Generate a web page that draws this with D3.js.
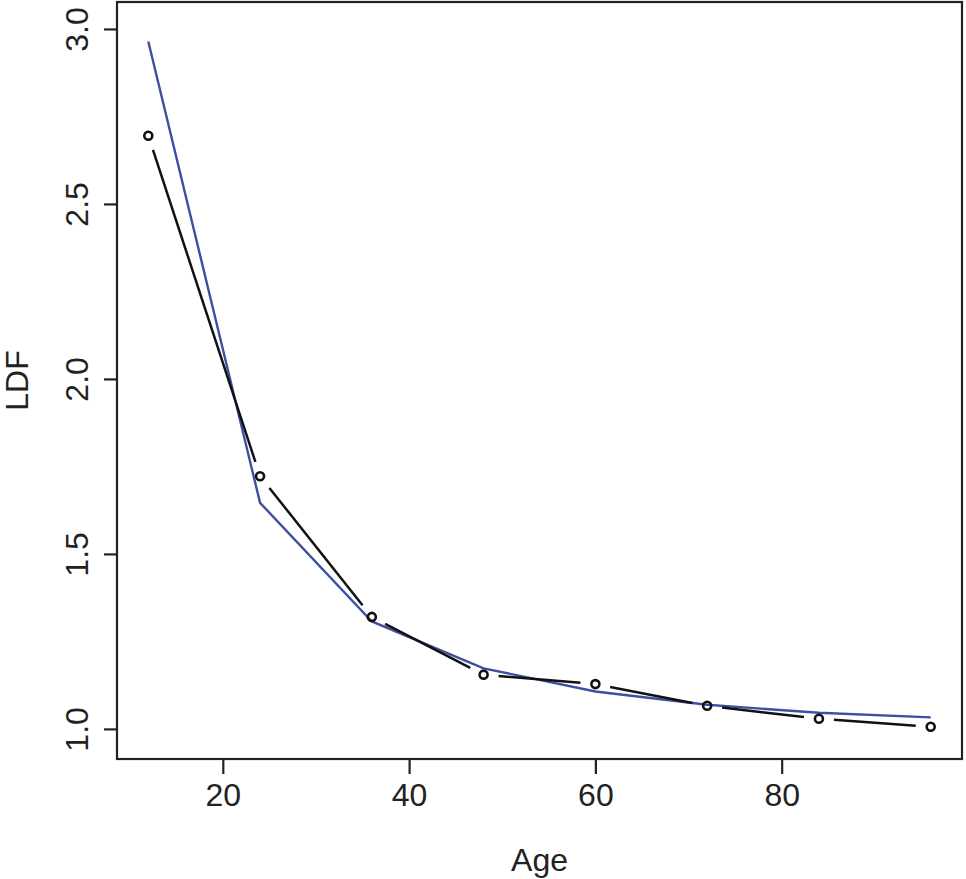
<!DOCTYPE html>
<html>
<head>
<meta charset="utf-8">
<script src="https://cdn.jsdelivr.net/npm/d3@7"></script>
<style>
  body { margin: 0; background: #fff; }
  text { font-family: "Liberation Sans", Arial, Helvetica, sans-serif; fill: #222; }
</style>
</head>
<body>
<div id="chart"></div>
<script>
// ages (development months)
let ages = [12, 24, 36, 48, 60, 72, 84, 96];
// observed LDF (black points, type "b")
let ldf_obs = [2.695, 1.722, 1.320, 1.155, 1.128, 1.066, 1.029, 1.006];
// fitted LDF (blue line)
let ldf_fit = [2.964, 1.646, 1.307, 1.173, 1.107, 1.069, 1.046, 1.033];

let x_ticks = [20, 40, 60, 80];
let y_ticks = [1.0, 1.5, 2.0, 2.5, 3.0];

let width = 966, height = 879,
    box = {left: 117, right: 962, top: 2, bottom: 759};

let svg = d3.select("#chart").append("svg")
  .attr("width", width)
  .attr("height", height);

// R style: data range extended by 4%
let x = d3.scaleLinear().domain([8.64, 99.36]).range([box.left, box.right]);
let y = d3.scaleLinear().domain([0.914, 3.077]).range([box.bottom, box.top]);

// fitted curve
let line = d3.line().x((d, i) => x(ages[i])).y(d => y(d));

svg.append("path")
  .datum(ldf_fit)
  .attr("d", line)
  .attr("fill", "none")
  .attr("stroke", "#3d4fa1")
  .attr("stroke-width", 2.4);

// observed: segments with gaps round the points
let gap = 15;
let segs = d3.range(ages.length - 1).map(function(i) {
  let x0 = x(ages[i]), y0 = y(ldf_obs[i]),
      x1 = x(ages[i + 1]), y1 = y(ldf_obs[i + 1]);
  let len = Math.hypot(x1 - x0, y1 - y0),
      ux = (x1 - x0) / len, uy = (y1 - y0) / len;
  return [x0 + ux * gap, y0 + uy * gap, x1 - ux * gap, y1 - uy * gap];
});

svg.selectAll(".seg").data(segs).enter().append("line")
  .attr("class", "seg")
  .attr("x1", d => d[0]).attr("y1", d => d[1])
  .attr("x2", d => d[2]).attr("y2", d => d[3])
  .attr("stroke", "#111")
  .attr("stroke-width", 2.5);

svg.selectAll(".pt").data(ldf_obs).enter().append("circle")
  .attr("class", "pt")
  .attr("cx", (d, i) => x(ages[i]))
  .attr("cy", d => y(d))
  .attr("r", 4)
  .attr("fill", "none")
  .attr("stroke", "#111")
  .attr("stroke-width", 2.6);

// box
svg.append("rect")
  .attr("x", box.left).attr("y", box.top)
  .attr("width", box.right - box.left).attr("height", box.bottom - box.top)
  .attr("fill", "none")
  .attr("stroke", "#222")
  .attr("stroke-width", 2.2);

// axes
let xAxis = d3.axisBottom(x).tickValues(x_ticks).tickSize(15).tickPadding(9)
  .tickFormat(d3.format("d"));
let gx = svg.append("g")
  .attr("transform", "translate(0," + box.bottom + ")")
  .call(xAxis);
gx.select(".domain").remove();
gx.selectAll("line").attr("stroke", "#222").attr("stroke-width", 2.2);
gx.selectAll("text").style("font-size", "32px").attr("fill", "#222");

let yAxis = d3.axisLeft(y).tickValues(y_ticks).tickSize(13)
  .tickFormat(d3.format(".1f"));
let gy = svg.append("g")
  .attr("transform", "translate(" + box.left + ",0)")
  .call(yAxis);
gy.select(".domain").remove();
gy.selectAll("line").attr("stroke", "#222").attr("stroke-width", 2.2);
gy.selectAll("text")
  .style("font-size", "32px")
  .attr("fill", "#222")
  .attr("x", null).attr("dy", null)
  .attr("text-anchor", "middle")
  .attr("transform", "translate(-29,0) rotate(-90)");

// titles
svg.append("text")
  .attr("x", (box.left + box.right) / 2)
  .attr("y", 871)
  .attr("text-anchor", "middle")
  .style("font-size", "32px")
  .text("Age");

svg.append("text")
  .attr("transform", "translate(28," + (box.top + box.bottom) / 2 + ") rotate(-90)")
  .attr("text-anchor", "middle")
  .style("font-size", "32px")
  .text("LDF");
</script>
</body>
</html>
